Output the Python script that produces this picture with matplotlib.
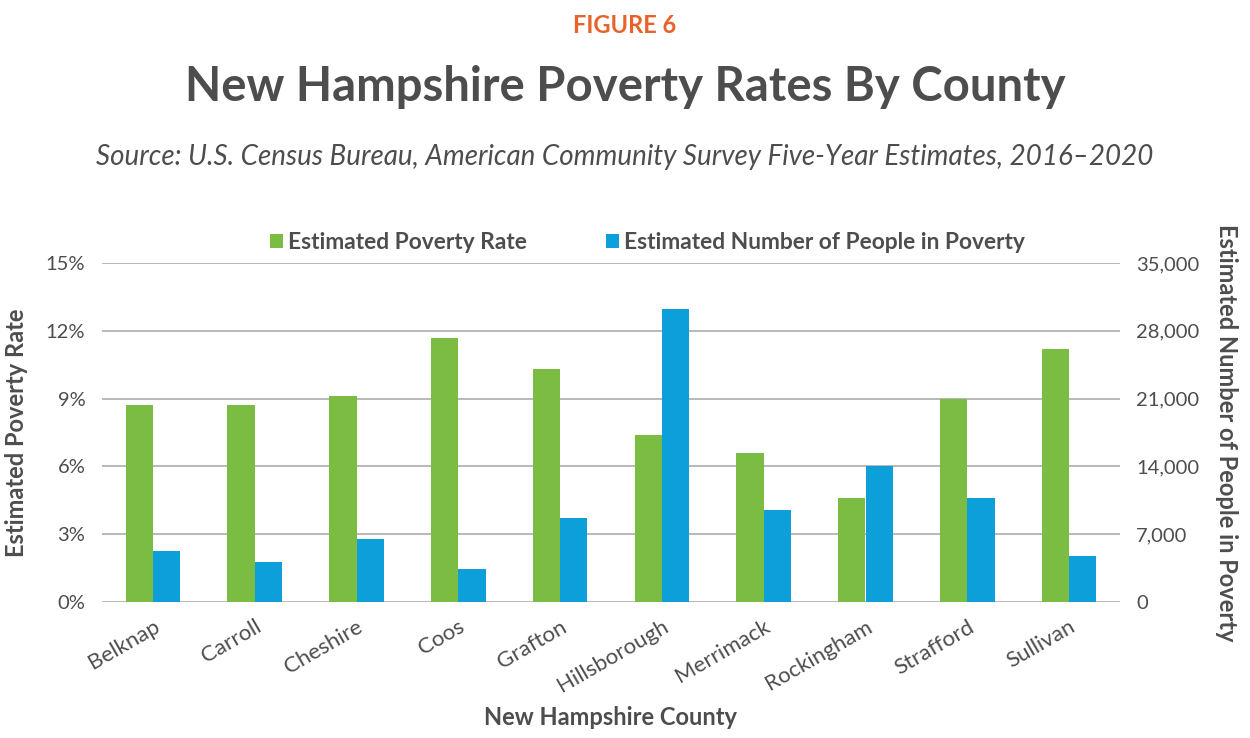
import matplotlib
matplotlib.use("Agg")
import matplotlib.pyplot as plt
from matplotlib.ticker import FuncFormatter, MultipleLocator
import numpy as np

# data
counties = ["Belknap", "Carroll", "Cheshire", "Coos", "Grafton",
            "Hillsborough", "Merrimack", "Rockingham", "Strafford", "Sullivan"]
poverty_rate = [8.7, 8.7, 9.1, 11.7, 10.3, 7.4, 6.6, 4.6, 9.0, 11.2]
people_in_poverty = [5270, 4150, 6530, 3400, 8670, 30300, 9520, 14040, 10770, 4750]

GREEN = "#7abd42"
BLUE = "#0c9fda"
ORANGE = "#e8622a"
DARK = "#4d4d4d"
GRID = "#a6a6a6"

plt.rcParams["font.family"] = ["Lato", "DejaVu Sans"]

fig = plt.figure(figsize=(12.5, 7.38), dpi=100)
ax = fig.add_axes([0.0816, 0.1843, 0.8144, 0.4593])
ax2 = ax.twinx()

x = np.arange(len(counties))
w = 0.268
ax.bar(x - w / 2, poverty_rate, w, color=GREEN, label="Estimated Poverty Rate", zorder=3)
ax2.bar(x + w / 2, people_in_poverty, w, color=BLUE,
        label="Estimated Number of People in Poverty", zorder=3)

ax.set_xlim(-0.5, 9.5)
ax.set_ylim(0, 15)
ax2.set_ylim(0, 35000)
ax.yaxis.set_major_locator(MultipleLocator(3))
ax2.yaxis.set_major_locator(MultipleLocator(7000))
ax.yaxis.set_major_formatter(FuncFormatter(lambda v, p: f"{v:.0f}%"))
ax2.yaxis.set_major_formatter(FuncFormatter(lambda v, p: f"{v:,.0f}"))
ax.grid(axis="y", color=GRID, linewidth=1.1, zorder=0)
ax.set_axisbelow(True)

for a in (ax, ax2):
    for s in a.spines.values():
        s.set_visible(False)
    a.tick_params(length=0, labelsize=14.5, labelcolor=DARK)
ax.tick_params(axis="y", pad=12)
ax2.tick_params(axis="y", pad=11.5)

ax.set_xticks(x)
ax.set_xticklabels(counties, rotation=30, ha="right", rotation_mode="anchor")
ax.tick_params(axis="x", pad=10.5, labelsize=16)

ax.set_ylabel("Estimated Poverty Rate", fontsize=17, fontweight="bold", color=DARK, labelpad=13)
ax2.set_ylabel("Estimated Number of People in Poverty", fontsize=17, fontweight="bold",
               color=DARK, rotation=270, labelpad=28)
ax.set_xlabel("New Hampshire County", fontsize=17, fontweight="bold", color=DARK, labelpad=7)

h1, l1 = ax.get_legend_handles_labels()
h2, l2 = ax2.get_legend_handles_labels()
fig.legend(h1 + h2, l1 + l2, loc="center", bbox_to_anchor=(0.518, 0.671), ncol=2,
           frameon=False, prop={"weight": "bold", "size": 16.4},
           handlelength=0.55, handleheight=0.55, handletextpad=0.22, columnspacing=3.5,
           labelcolor=DARK)

fig.text(0.5, 0.965, "FIGURE 6", ha="center", va="center", fontsize=17,
         fontweight="bold", color=ORANGE)
fig.text(0.5, 0.882, "New Hampshire Poverty Rates By County", ha="center", va="center",
         fontsize=34, fontweight="bold", color=DARK)
fig.text(0.5, 0.787, "Source: U.S. Census Bureau, American Community Survey Five-Year Estimates, 2016\u20132020",
         ha="center", va="center", fontsize=20, style="italic", color=DARK)

fig.savefig("out.png", dpi=100)
